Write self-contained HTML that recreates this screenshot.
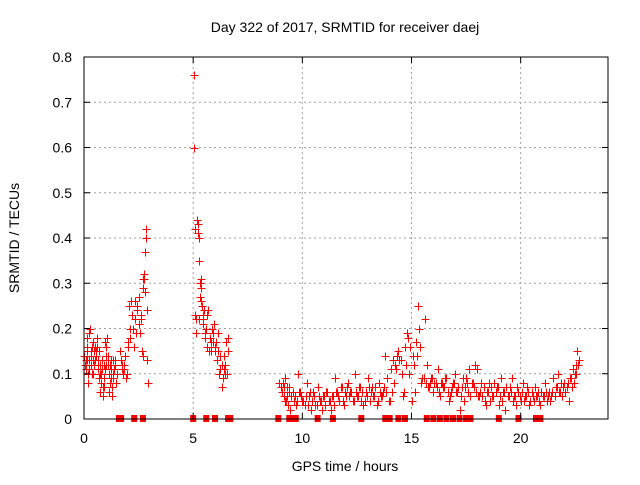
<!DOCTYPE html>
<html><head><meta charset="utf-8"><style>
body{margin:0;background:#fff;}
svg text{font-family:"Liberation Sans",sans-serif;font-size:14px;fill:#000;}
</style></head><body>
<svg id="chart" width="640" height="480" viewBox="0 0 640 480" xmlns="http://www.w3.org/2000/svg">
<rect width="640" height="480" fill="#fff"/>
<text x="345" y="32" text-anchor="middle">Day 322 of 2017, SRMTID for receiver daej</text>
<g id="grid"></g>
<g id="points"></g>
<rect x="84" y="57" width="524" height="362" fill="none" stroke="#000" stroke-width="1"/>
<g id="ticks"></g>
<text x="345" y="471" text-anchor="middle">GPS time / hours</text>
<text transform="translate(19,238) rotate(-90)" text-anchor="middle">SRMTID / TECUs</text>
</svg>
<script>
const xTicks=[0,5,10,15,20];
const yTicks=[0,0.1,0.2,0.3,0.4,0.5,0.6,0.7,0.8];
const yTickLabels=["0","0.1","0.2","0.3","0.4","0.5","0.6","0.7","0.8"];
const times=[0.02,0.05,0.08,0.1,0.13,0.15,0.18,0.2,0.22,0.25,0.28,0.3,0.33,0.35,0.38,0.4,0.43,0.45,0.48,0.5,0.53,0.55,0.58,0.6,0.63,0.65,0.68,0.7,0.73,0.75,0.78,0.8,0.83,0.85,0.88,0.9,0.93,0.95,0.98,1.0,1.03,1.05,1.08,1.1,1.13,1.15,1.18,1.2,1.23,1.25,1.28,1.3,1.33,1.35,1.38,1.4,1.45,1.5,
1.65,1.7,1.75,1.8,1.85,1.9,1.95,2.0,2.05,2.1,2.15,2.2,2.25,2.3,2.35,2.4,2.45,2.5,2.55,2.6,2.65,2.7,2.72,2.75,2.78,2.8,2.82,2.85,2.88,2.9,2.92,
5.02,5.05,5.07,5.1,5.12,5.15,5.17,5.2,5.22,5.25,5.27,5.3,5.32,5.35,5.38,5.4,5.43,5.45,5.5,5.55,5.6,5.65,5.7,5.75,5.8,5.85,5.9,5.95,6.0,6.05,6.1,6.15,6.2,6.25,6.3,6.35,6.4,6.45,6.5,6.55,6.6,
8.95,9.0,9.05,9.1,9.15,9.2,9.25,9.3,9.35,9.4,9.45,9.5,9.6,9.7,9.8,9.9,10.0,10.1,10.2,10.3,10.4,10.5,10.6,10.7,10.8,10.9,11.0,11.1,11.2,11.3,11.4,11.5,11.6,11.7,11.8,11.9,12.0,12.1,12.2,12.3,12.4,12.5,12.6,12.7,12.8,12.9,13.0,13.1,13.2,13.3,13.4,13.5,13.6,13.7,13.8,13.9,14.0,14.1,14.2,14.3,14.4,14.5,14.6,14.7,14.8,14.9,15.0,15.1,15.15,15.2,15.25,15.3,15.35,15.4,15.5,15.6,15.7,15.8,15.9,16.0,16.1,16.2,16.3,16.4,16.5,16.6,16.7,16.8,16.9,17.0,17.1,17.2,17.3,17.4,17.5,17.6,17.7,17.8,17.9,18.0,18.1,18.2,18.3,18.4,18.5,18.6,18.7,18.8,18.9,19.0,19.1,19.2,19.3,19.4,19.5,19.6,19.7,19.8,19.9,20.0,20.1,20.2,20.3,20.4,20.5,20.6,20.7,20.8,20.9,21.0,21.1,21.2,21.3,21.4,21.5,21.6,21.7,21.8,21.9,22.0,22.1,22.2,22.3,22.4,22.5,22.55,22.6,22.65,22.7];
const values=[0.14,0.12,0.13,0.11,0.18,0.15,0.10,0.08,0.19,0.13,0.2,0.12,0.14,0.1,0.16,0.13,0.17,0.15,0.12,0.16,0.14,0.15,0.18,0.16,0.13,0.11,0.15,0.09,0.12,0.06,0.08,0.1,0.13,0.05,0.07,0.09,0.12,0.11,0.17,0.16,0.14,0.18,0.13,0.12,0.1,0.06,0.08,0.12,0.11,0.13,0.05,0.07,0.13,0.09,0.11,0.12,0.08,0.1,
0.15,0.13,0.12,0.1,0.11,0.14,0.1,0.17,0.25,0.2,0.26,0.23,0.2,0.16,0.26,0.19,0.24,0.27,0.19,0.22,0.15,0.14,0.31,0.32,0.37,0.28,0.4,0.42,0.24,0.13,0.08,
0.76,0.6,0.42,0.23,0.22,0.19,0.44,0.43,0.41,0.4,0.35,0.3,0.27,0.31,0.29,0.25,0.23,0.21,0.24,0.18,0.2,0.16,0.24,0.18,0.15,0.2,0.17,0.21,0.15,0.17,0.13,0.19,0.1,0.11,0.07,0.09,0.14,0.12,0.17,0.1,0.18,
0.08,0.07,0.06,0.08,0.05,0.09,0.04,0.07,0.03,0.06,0.02,0.05,0.04,0.03,0.1,0.06,0.04,0.03,0.08,0.05,0.02,0.06,0.03,0.07,0.04,0.02,0.05,0.06,0.04,0.02,0.05,0.09,0.06,0.04,0.07,0.03,0.05,0.08,0.06,0.04,0.1,0.05,0.07,0.04,0.03,0.06,0.09,0.04,0.07,0.05,0.03,0.08,0.05,0.06,0.14,0.09,0.04,0.06,0.08,0.11,0.15,0.13,0.05,0.16,0.19,0.1,0.04,0.12,0.06,0.17,0.14,0.25,0.2,0.16,0.09,0.22,0.12,0.07,0.09,0.06,0.08,0.11,0.05,0.08,0.07,0.09,0.04,0.06,0.08,0.1,0.06,0.02,0.07,0.04,0.09,0.06,0.05,0.08,0.12,0.11,0.05,0.08,0.07,0.03,0.06,0.04,0.05,0.08,0.07,0.03,0.09,0.06,0.02,0.05,0.07,0.09,0.05,0.03,0.06,0.04,0.08,0.05,0.07,0.03,0.06,0.04,0.05,0.06,0.03,0.05,0.08,0.04,0.06,0.05,0.09,0.07,0.1,0.06,0.05,0.08,0.07,0.04,0.09,0.11,0.1,0.12,0.15];
const times2=[0.06,0.12,0.16,0.24,0.32,0.42,0.52,0.62,0.72,0.82,0.92,1.02,1.12,1.22,1.32,1.42,1.72,1.82,1.92,2.02,2.12,2.22,2.32,2.42,2.52,2.62,2.68,2.76,5.28,5.34,5.44,5.52,5.62,5.72,5.82,5.92,6.02,6.12,6.22,6.32,6.38,6.42,6.48,6.58,
9.05,9.12,9.18,9.22,9.28,9.33,9.38,9.55,9.65,9.75,9.85,9.95,10.05,10.15,10.25,10.35,10.45,10.55,10.65,10.75,10.85,10.95,11.05,11.15,11.25,11.35,11.45,11.55,11.65,11.75,11.85,11.95,12.05,12.15,12.25,12.35,12.45,12.55,12.65,12.75,12.85,12.95,13.05,13.15,13.25,13.35,13.45,13.55,13.65,13.75,13.85,13.95,14.05,14.15,14.25,14.35,14.45,14.55,14.65,14.75,14.85,14.95,15.05,15.45,15.55,15.65,15.75,15.85,15.95,16.05,16.15,16.25,16.35,16.45,16.55,16.65,16.75,16.85,16.95,17.05,17.15,17.25,17.35,17.45,17.55,17.65,17.75,17.85,17.95,18.05,18.15,18.25,18.35,18.45,18.55,18.65,18.75,18.85,18.95,19.05,19.15,19.25,19.35,19.45,19.55,19.65,19.75,19.85,19.95,20.05,20.15,20.25,20.35,20.45,20.55,20.65,20.75,20.85,20.95,21.05,21.15,21.25,21.35,21.45,21.55,21.65,21.75,21.85,21.95,22.05,22.15,22.25,22.35,22.45,22.52,22.62,22.68];
const values2=[0.12,0.16,0.13,0.11,0.15,0.1,0.13,0.12,0.1,0.11,0.07,0.12,0.14,0.09,0.1,0.13,0.11,0.12,0.09,0.16,0.18,0.23,0.22,0.25,0.21,0.23,0.29,0.31,0.22,0.26,0.22,0.19,0.23,0.15,0.17,0.19,0.16,0.15,0.14,0.12,0.09,0.11,0.1,0.15,
0.06,0.08,0.07,0.04,0.05,0.03,0.07,0.06,0.05,0.04,0.06,0.05,0.04,0.05,0.03,0.06,0.04,0.05,0.03,0.05,0.04,0.05,0.03,0.06,0.04,0.05,0.03,0.06,0.05,0.07,0.04,0.06,0.07,0.05,0.06,0.04,0.06,0.05,0.07,0.06,0.04,0.05,0.07,0.06,0.05,0.07,0.04,0.06,0.05,0.07,0.06,0.04,0.11,0.13,0.12,0.14,0.13,0.1,0.06,0.12,0.18,0.16,0.14,0.08,0.09,0.08,0.07,0.08,0.09,0.08,0.07,0.06,0.08,0.07,0.09,0.06,0.05,0.07,0.08,0.06,0.07,0.05,0.09,0.07,0.08,0.11,0.08,0.07,0.06,0.05,0.06,0.05,0.04,0.06,0.08,0.07,0.05,0.06,0.07,0.05,0.04,0.06,0.07,0.05,0.06,0.04,0.05,0.07,0.05,0.06,0.04,0.05,0.06,0.04,0.05,0.07,0.05,0.04,0.06,0.05,0.06,0.05,0.04,0.06,0.05,0.07,0.06,0.08,0.07,0.06,0.08,0.09,0.07,0.08,0.1,0.12,0.13];
const zeroTimes=[1.6,1.7,2.3,2.7,5.0,5.6,6.0,6.6,6.7,8.9,9.4,9.5,9.6,9.7,10.7,11.4,12.7,13.8,14.0,14.4,14.7,15.7,16.0,16.3,16.6,16.9,17.2,17.5,17.7,19.0,19.9,20.7,20.9];
const NS="http://www.w3.org/2000/svg";
const X0=84,X1=608,Y0=419,Y1=57;
const xs=t=>X0+(X1-X0)*t/24;
const ys=v=>Y0-(Y0-Y1)*v/0.8;
const grid=document.getElementById('grid'),ticks=document.getElementById('ticks'),pts=document.getElementById('points');
function mk(tag,a,p){const e=document.createElementNS(NS,tag);for(const k in a)e.setAttribute(k,a[k]);p.appendChild(e);return e;}
yTicks.forEach((v,i)=>{const y=ys(v);
 if(i>0&&i<yTicks.length-1){const g=mk('line',{x1:X0,x2:X1,y1:y,y2:y,stroke:'#a0a0a0','stroke-dasharray':'2,3'},grid);
 
 }
 mk('line',{x1:X0,x2:X0+6,y1:y,y2:y,stroke:'#000'},ticks);
 mk('line',{x1:X1,x2:X1-6,y1:y,y2:y,stroke:'#000'},ticks);
 const t=mk('text',{x:X0-12,y:y+5,'text-anchor':'end'},ticks);t.textContent=yTickLabels[i];
 
 
});
xTicks.forEach(v=>{const x=xs(v);
 if(v>0){const g=mk('line',{x1:x,x2:x,y1:Y0,y2:Y1,stroke:'#a0a0a0','stroke-dasharray':'2,3'},grid);
 
 }
 mk('line',{x1:x,x2:x,y1:Y0,y2:Y0-6,stroke:'#000'},ticks);
 mk('line',{x1:x,x2:x,y1:Y1,y2:Y1+6,stroke:'#000'},ticks);
 const t=mk('text',{x:x,y:Y0+24,'text-anchor':'middle'},ticks);t.textContent=String(v);
 
 
});
function plus(t,v){const x=Math.round(xs(t))+0.5,y=Math.round(ys(v))+0.5;
 const p=mk('path',{d:`M${x-4} ${y}H${x+4}M${x} ${y-4}V${y+4}`,stroke:'#ff0000','stroke-width':1,fill:'none','shape-rendering':'crispEdges'},pts);
 
 }
times.forEach((t,i)=>plus(t,values[i]));
times2.forEach((t,i)=>plus(t,values2[i]));
zeroTimes.forEach(t=>{const r=mk('rect',{x:xs(t)-3,y:Y0-4,width:6,height:7,fill:'#ff0000'},pts);
 
 });
</script>
</body></html>
